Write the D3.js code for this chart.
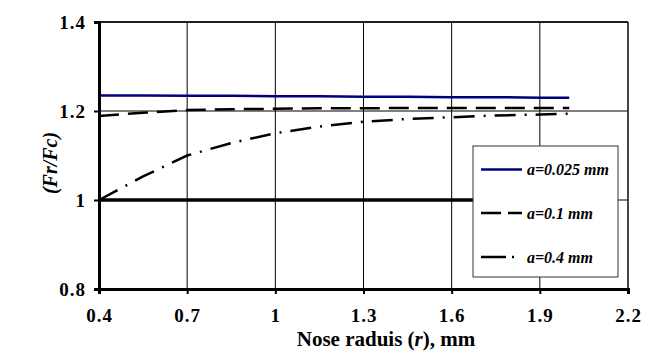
<!DOCTYPE html>
<html><head><meta charset="utf-8">
<script src="https://cdn.jsdelivr.net/npm/d3@7"></script>
<style>body{margin:0;background:#fff}svg{display:block}text{font-family:"Liberation Serif","Times New Roman",Times,serif;font-weight:bold}</style>
</head><body><svg id="c" width="659" height="355"></svg>
<script>
const xTicks = [0.4, 0.7, 1.0, 1.3, 1.6, 1.9, 2.2];
const xTickLabels = ["0.4", "0.7", "1", "1.3", "1.6", "1.9", "2.2"];
const yTicks = [0.8, 1.0, 1.2, 1.4];
const yTickLabels = ["0.8", "1", "1.2", "1.4"];
const rValues = [0.4, 0.55, 0.7, 0.85, 1.0, 1.15, 1.3, 1.45, 1.6, 1.75, 1.9, 2.0];
const a025 = [1.235, 1.235, 1.234, 1.234, 1.233, 1.233, 1.232, 1.232, 1.231, 1.231, 1.230, 1.230];
const a01  = [1.189, 1.196, 1.202, 1.204, 1.205, 1.206, 1.206, 1.207, 1.207, 1.207, 1.207, 1.207];
const a04  = [1.000, 1.053, 1.100, 1.128, 1.150, 1.165, 1.176, 1.182, 1.186, 1.190, 1.192, 1.194];
const baseline = [1, 1, 1, 1, 1, 1, 1, 1, 1, 1, 1, 1];
const legendLabels = ["a=0.025 mm", "a=0.1 mm", "a=0.4 mm"];

const FONT = '"Liberation Serif","Times New Roman",Times,serif';
const svg = d3.select("#c");
const m = {l: 99, t: 22, r: 628, b: 289};
const x = d3.scaleLinear().domain([0.4, 2.2]).range([m.l, m.r]);
const y = d3.scaleLinear().domain([0.8, 1.4]).range([m.b, m.t]);

// gridlines
const g = svg.append("g");
g.selectAll(".vg").data(xTicks.slice(1)).enter().append("line")
  .attr("x1", d => x(d)).attr("x2", d => x(d)).attr("y1", m.t).attr("y2", m.b)
  .attr("stroke", "#000").attr("stroke-width", 1);
g.selectAll(".hg").data(yTicks.slice(1)).enter().append("line")
  .attr("x1", m.l).attr("x2", m.r).attr("y1", d => y(d)).attr("y2", d => y(d))
  .attr("stroke", "#000").attr("stroke-width", 1);
g.append("line").attr("x1", m.r).attr("x2", m.r).attr("y1", m.t).attr("y2", m.b)
  .attr("stroke", "#333").attr("stroke-width", 1.5);

// series
const line = vals => d3.line().x((d, i) => x(rValues[i])).y(d => y(d))(vals);
const lines = svg.append("g").attr("fill", "none");
lines.append("path").attr("d", line(baseline)).attr("stroke", "#000").attr("stroke-width", 3.5);
lines.append("path").attr("d", line(a025)).attr("stroke", "#000080").attr("stroke-width", 2.5);
lines.append("path").attr("d", line(a01)).attr("stroke", "#000").attr("stroke-width", 2.5).attr("stroke-dasharray", "20,9");
lines.append("path").attr("d", line(a04)).attr("stroke", "#000").attr("stroke-width", 2.5).attr("stroke-dasharray", "21,9,2,9");

// axes
const xAxis = svg.append("g").attr("transform", `translate(0,${m.b})`)
  .call(d3.axisBottom(x).tickValues(xTicks).tickFormat((d, i) => xTickLabels[i]).tickSize(5).tickPadding(15));
const yAxis = svg.append("g").attr("transform", `translate(${m.l},0)`)
  .call(d3.axisLeft(y).tickValues(yTicks).tickFormat((d, i) => yTickLabels[i]).tickSize(5).tickPadding(8));
[xAxis, yAxis].forEach(a => {
  a.attr("font-family", FONT);
  a.select(".domain").attr("stroke", "#000").attr("stroke-width", 3);
  a.selectAll(".tick line").attr("stroke", "#000").attr("stroke-width", 2);
  a.selectAll(".tick text").attr("fill", "#000").style("font-size", "19px").style("font-family", FONT).style("font-weight", "bold").style("letter-spacing", "1px");
});
yAxis.selectAll(".tick text").attr("dy", "0.35em");
// top border
svg.append("line").attr("x1", m.l).attr("x2", m.r).attr("y1", m.t).attr("y2", m.t).attr("stroke", "#000").attr("stroke-width", 1.5);

// axis titles
const xt = svg.append("text").attr("x", 386).attr("y", 346).attr("text-anchor", "middle").style("font-size", "21px");
xt.append("tspan").text("Nose raduis (");
xt.append("tspan").text("r").style("font-style", "italic");
xt.append("tspan").text("), mm");
svg.append("text").attr("transform", "translate(57,163) rotate(-90)").attr("text-anchor", "middle")
  .style("font-size", "20px").style("font-style", "italic").text("(Fr/Fc)");

// legend
const lg = svg.append("g");
lg.append("rect").attr("x", 473).attr("y", 146).attr("width", 145).attr("height", 131)
  .attr("fill", "#fff").attr("stroke", "#333").attr("stroke-width", 1);
const ly = [169.5, 213, 257];
const styles = [
  {c: "#000080", d: null},
  {c: "#000", d: "20,7"},
  {c: "#000", d: "25,6,2,20"}
];
legendLabels.forEach((t, i) => {
  lg.append("line").attr("x1", 481).attr("x2", 522).attr("y1", ly[i]).attr("y2", ly[i])
    .attr("stroke", styles[i].c).attr("stroke-width", 2.5).attr("stroke-dasharray", styles[i].d);
  lg.append("text").attr("x", 527).attr("y", ly[i]).attr("dy", "0.35em")
    .style("font-size", "16px").style("font-style", "italic").text(t);
});
</script></body></html>
